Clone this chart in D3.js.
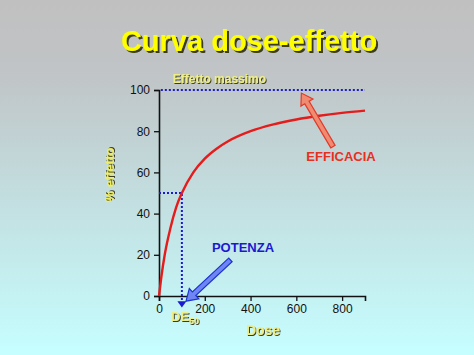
<!DOCTYPE html>
<html>
<head>
<meta charset="utf-8">
<script src="https://cdn.jsdelivr.net/npm/d3@7"></script>
<style>
  body { margin: 0; }
  svg { display: block; }
</style>
</head>
<body>
<div id="chart"></div>
<script>
// values
const dose = [0, 10, 25, 50, 75, 100, 150, 200, 250, 300, 400, 500, 600, 700, 800, 900];
const effect = [0, 9, 20, 33, 43, 50, 60, 66.7, 71.4, 75, 80, 83.3, 85.7, 87.5, 88.9, 90];
const xTicks = [0, 200, 400, 600, 800];
const yTicks = [0, 20, 40, 60, 80, 100];
const maxEffect = 100;
const de50 = 100;

const width = 474, height = 355;
const font = "Liberation Sans, Arial, sans-serif";

let svg = d3
  .select("#chart")
  .append("svg")
  .attr("width", width)
  .attr("height", height);

let defs = svg.append("defs");
let grad = defs
  .append("linearGradient")
  .attr("id", "bg")
  .attr("x1", "0").attr("y1", "0")
  .attr("x2", "0").attr("y2", "1");
grad.append("stop").attr("offset", "0").attr("stop-color", "#c0c0c0");
grad.append("stop").attr("offset", "0.2").attr("stop-color", "#c0c4c6");
grad.append("stop").attr("offset", "1").attr("stop-color", "#c6feff");

// drop shadows for the yellow texts
[["shadow", 1], ["shadowBig", 2]].forEach(([id, d]) => {
  defs
    .append("filter")
    .attr("id", id)
    .attr("x", "-10%").attr("y", "-30%")
    .attr("width", "130%").attr("height", "160%")
    .append("feDropShadow")
    .attr("dx", d).attr("dy", d)
    .attr("stdDeviation", 0.4)
    .attr("flood-color", "#3a3a20")
    .attr("flood-opacity", 1);
});

svg
  .append("rect")
  .attr("width", width)
  .attr("height", height)
  .attr("fill", "url(#bg)");

let x = d3.scaleLinear().domain([0, 900]).range([159, 365]);
let y = d3.scaleLinear().domain([0, 100]).range([296, 90]);

function label(px, py, txt, size, fill, opts = {}) {
  return svg
    .append("text")
    .attr("transform", `translate(${px},${py}) rotate(${opts.rotate || 0})`)
    .attr("text-anchor", opts.anchor || "middle")
    .attr("font-family", font)
    .attr("font-weight", "bold")
    .attr("font-size", size)
    .attr("fill", fill)
    .attr("filter", opts.shadow ? `url(#${opts.shadow})` : null)
    .text(txt);
}

label(249, 51, "Curva dose-effetto", 29, "#ffff00", { shadow: "shadowBig" });

// axes
let yAxis = svg
  .append("g")
  .attr("transform", `translate(${x(0)},0)`)
  .call(d3.axisLeft(y).tickValues(yTicks).tickSize(5).tickPadding(4));
let xAxis = svg
  .append("g")
  .attr("transform", `translate(0,${y(0)})`)
  .call(d3.axisBottom(x).tickValues(xTicks).tickSize(5).tickPadding(3));

[xAxis, yAxis].forEach(a => {
  a.select(".domain").attr("stroke", "#111").attr("stroke-width", 1.6);
  a.selectAll(".tick line").attr("stroke", "#111").attr("stroke-width", 1.3);
  a.selectAll(".tick text")
    .attr("font-family", font)
    .attr("font-size", 12)
    .attr("fill", "#111");
});

// effetto massimo line
svg
  .append("line")
  .attr("x1", x(8)).attr("x2", x(900))
  .attr("y1", y(maxEffect)).attr("y2", y(maxEffect))
  .attr("stroke", "#1a1ad0")
  .attr("stroke-width", 2)
  .attr("stroke-dasharray", "2,2");

label(x(60), y(maxEffect) - 7, "Effetto massimo", 12, "#eeee88", { anchor: "start", shadow: "shadow" });

// DE50 dotted guides
svg
  .append("path")
  .attr("d", `M${x(0)},${y(50)} H${x(de50)} V${y(-2.5)}`)
  .attr("fill", "none")
  .attr("stroke", "#1a1ad0")
  .attr("stroke-width", 2)
  .attr("stroke-dasharray", "2,2");

svg
  .append("polygon")
  .attr("points", [[x(de50) - 4.5, y(-2.5)], [x(de50) + 4.5, y(-2.5)], [x(de50), y(-5.6)]].join(" "))
  .attr("fill", "#1a1ad0");

// dose-effect curve
let line = d3.line()
  .x((d, i) => x(dose[i]))
  .y(d => y(d))
  .curve(d3.curveMonotoneX);

svg
  .append("path")
  .attr("d", line(effect))
  .attr("fill", "none")
  .attr("stroke", "#e51c1c")
  .attr("stroke-width", 2.4);

// hollow arrows
function hollowArrow(x0, y0, x1, y1, fill, stroke) {
  let dx = x1 - x0, dy = y1 - y0;
  let len = Math.hypot(dx, dy);
  let ux = dx / len, uy = dy / len;
  let nx = -uy, ny = ux;
  let hw = 2.5, head = 11, headW = 7;
  let bx = x1 - ux * head, by = y1 - uy * head;
  let pts = [
    [x0 + nx * hw, y0 + ny * hw],
    [bx + nx * hw, by + ny * hw],
    [bx + nx * headW, by + ny * headW],
    [x1, y1],
    [bx - nx * headW, by - ny * headW],
    [bx - nx * hw, by - ny * hw],
    [x0 - nx * hw, y0 - ny * hw]
  ];
  svg
    .append("polygon")
    .attr("points", pts.join(" "))
    .attr("fill", fill)
    .attr("stroke", stroke)
    .attr("stroke-width", 1.2)
    .attr("stroke-linejoin", "miter");
}

hollowArrow(x(760), y(72.5), x(622), y(98.5), "#f08a70", "#e03a2a");
hollowArrow(x(312), y(17.5), x(118), y(-2.5), "#6f86f2", "#1c34d2");

// labels
label(341, 161, "EFFICACIA", 13, "#e8301e");
label(243, 252, "POTENZA", 13, "#1a1ad0");
label(114, 175, "% effetto", 13, "#eeee66", { rotate: -90, shadow: "shadow" });
label(263, 335, "Dose", 14, "#eeee88", { shadow: "shadow" });

// DE50 label with subscript
let de = label(171, 321, "DE", 13, "#eeee88", { anchor: "start", shadow: "shadow" });
de.append("tspan").attr("dy", 3).attr("font-size", 9).text("50");
</script>
</body>
</html>
